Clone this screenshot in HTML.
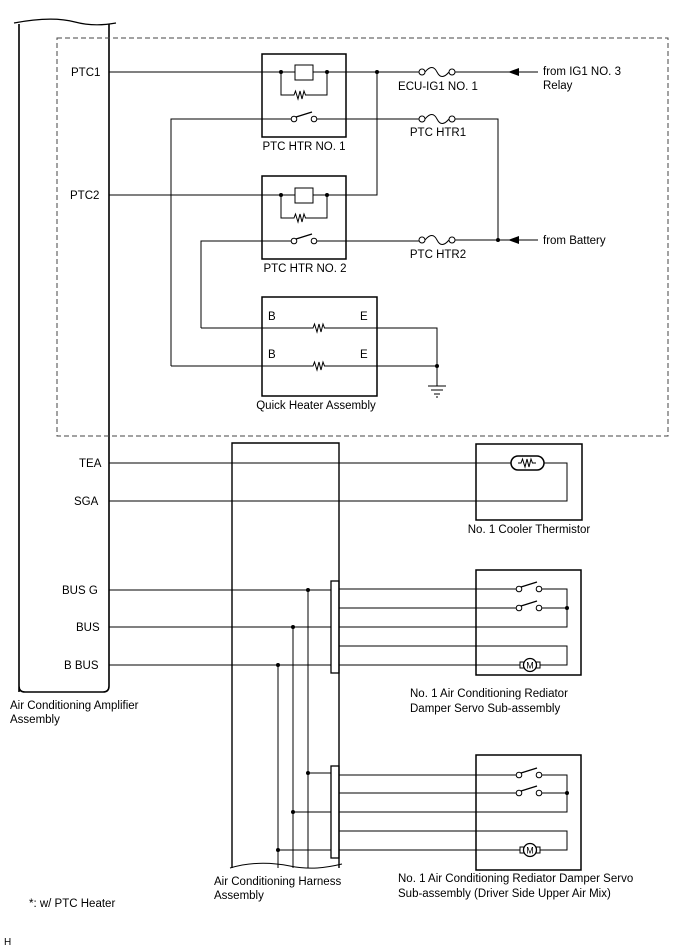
<!DOCTYPE html>
<html><head><meta charset="utf-8"><style>
html,body{margin:0;padding:0;background:#fff;}
svg{display:block;}
text{font-family:"Liberation Sans",Arial,sans-serif;font-size:11.5px;fill:#000;}
</style></head><body>
<svg width="688" height="949" viewBox="0 0 688 949" xmlns="http://www.w3.org/2000/svg">
<defs>
<g id="res"><path d="M-9,0 H-6 L-4.5,-4 L-2,4 L0,-4 L2,4 L4,-4 L5.5,0 H9" fill="none" stroke="#000" stroke-width="1"/></g>
<g id="fuse"><circle cx="-15" cy="0" r="3" fill="#fff" stroke="#000"/><circle cx="15" cy="0" r="3" fill="#fff" stroke="#000"/><path d="M-12,0 C-7,-6 -3,-6 0,0 C3,6 7,6 12,0" fill="none" stroke="#000"/></g>
<g id="sw"><circle cx="0" cy="0" r="2.8" fill="#fff" stroke="#000"/><circle cx="20" cy="0" r="2.8" fill="#fff" stroke="#000"/><line x1="2" y1="-2" x2="18" y2="-7" stroke="#000" stroke-width="1.3"/></g>
<g id="motor"><rect x="-10" y="-3" width="4" height="6" fill="#fff" stroke="#000"/><rect x="6" y="-3" width="4" height="6" fill="#fff" stroke="#000"/><circle cx="0" cy="0" r="6.5" fill="#fff" stroke="#000" stroke-width="1.3"/><text x="0" y="3.5" text-anchor="middle" style="font-size:9px">M</text></g>
</defs>
<g stroke="#000" fill="none" stroke-width="1">
<!-- amplifier -->
<path d="M19,692 V24 M109,24 V686 Q109,692 103,692 H25 Q19,692 19,686" stroke-width="1.6"/>
<path d="M14,23 C40,18 60,18 75,22 C90,26 105,25 116,23" stroke-width="1.2"/>
<!-- dashed -->
<rect x="57" y="38" width="611" height="398" stroke-dasharray="5,3" stroke="#444"/>
<!-- boxes -->
<rect x="262" y="54" width="84" height="83" stroke-width="1.5"/>
<rect x="262" y="176" width="84" height="83" stroke-width="1.5"/>
<rect x="262" y="297" width="115" height="99" stroke-width="1.5"/>
<!-- PTC1 -->
<path d="M109,72 H295 M313,72 H422 M452,72 H538"/>
<rect x="295" y="65" width="18" height="15"/>
<path d="M281,72 V95 H291 M309,95 H327 V72"/>
<path d="M377,72 V195 H327"/>
<path d="M327,195 V218 H309 M291,218 H281 V195"/>
<path d="M109,195 H295 M313,195 H327"/>
<rect x="295" y="188" width="18" height="15"/>
<!-- switch rows -->
<path d="M171,366 V119 H291 M317,119 H422 M452,119 H498 V240 M452,240 H538"/>
<path d="M201,328 V241 H291 M317,241 H422"/>
<!-- quick heater -->
<path d="M201,328 H310 M328,328 H437 V386 M171,366 H310 M328,366 H437"/>
<path d="M428,386 H446 M431,390 H443 M434,394 H440 M436,397 H438"/>
<!-- lower -->
<path d="M232,868 V443 H339 V868" stroke-width="1.4"/>
<path d="M230,868 C250,862 270,862 290,866 C310,870 325,868 342,864" stroke-width="1"/>
<rect x="476" y="444" width="106" height="76" stroke-width="1.5"/>
<path d="M109,463 H511 M544,463 H567 V501 H109"/>
<rect x="511" y="456" width="33" height="14" rx="7" stroke-width="1.5"/>
<!-- bus -->
<path d="M109,590 H331 M109,627 H331 M109,665 H331"/>
<path d="M308,590 V868 M293,627 V868 M278,665 V868"/>
<path d="M308,773 H331 M293,812 H331 M278,850 H331"/>
<rect x="331" y="581" width="8" height="92" stroke-width="1.3"/>
<rect x="331" y="766" width="8" height="92" stroke-width="1.3"/>
<rect x="476" y="570" width="105" height="105" stroke-width="1.5"/>
<rect x="476" y="755" width="105" height="115" stroke-width="1.5"/>
<path d="M339,589 H516 M542,589 H567 V627 H339 M339,608 H516 M542,608 H567 M339,646 H567 V665 H540 M520,665 H339"/>
<path d="M339,775 H516 M542,775 H567 V812 H339 M339,793 H516 M542,793 H567 M339,831 H567 V850 H540 M520,850 H339"/>
</g>
<use href="#res" x="300" y="95"/><use href="#res" x="300" y="218"/>
<use href="#res" x="319" y="328"/><use href="#res" x="319" y="366"/>
<use href="#res" x="527" y="463"/>
<use href="#fuse" x="437" y="72"/><use href="#fuse" x="437" y="119"/><use href="#fuse" x="437" y="240"/>
<use href="#sw" x="294" y="119"/><use href="#sw" x="294" y="241"/>
<use href="#sw" x="519" y="589"/><use href="#sw" x="519" y="608"/>
<use href="#sw" x="519" y="775"/><use href="#sw" x="519" y="793"/>
<use href="#motor" x="530" y="665"/><use href="#motor" x="530" y="850"/>
<g fill="#000">
<circle cx="281" cy="72" r="2"/><circle cx="327" cy="72" r="2"/><circle cx="377" cy="72" r="2"/>
<circle cx="281" cy="195" r="2"/><circle cx="327" cy="195" r="2"/><circle cx="498" cy="240" r="2"/>
<circle cx="437" cy="366" r="2"/>
<circle cx="308" cy="590" r="2"/><circle cx="293" cy="627" r="2"/><circle cx="278" cy="665" r="2"/>
<circle cx="308" cy="773" r="2"/><circle cx="293" cy="812" r="2"/><circle cx="278" cy="850" r="2"/>
<circle cx="567" cy="608" r="2"/><circle cx="567" cy="793" r="2"/>
<path d="M508,72 L519,68 V76 Z"/><path d="M508,240 L519,236 V244 Z"/>
</g>
<text x="71" y="76">PTC1</text>
<text x="70" y="199">PTC2</text>
<text x="304" y="150" text-anchor="middle">PTC HTR NO. 1</text>
<text x="305" y="272" text-anchor="middle">PTC HTR NO. 2</text>
<text x="316" y="409" text-anchor="middle">Quick Heater Assembly</text>
<text x="268" y="320">B</text><text x="268" y="358">B</text>
<text x="360" y="320">E</text><text x="360" y="358">E</text>
<text x="438" y="90" text-anchor="middle">ECU-IG1 NO. 1</text>
<text x="438" y="136" text-anchor="middle">PTC HTR1</text>
<text x="438" y="258" text-anchor="middle">PTC HTR2</text>
<text x="543" y="75">from IG1 NO. 3</text>
<text x="543" y="89">Relay</text>
<text x="543" y="244">from Battery</text>
<text x="79" y="467">TEA</text>
<text x="74" y="505">SGA</text>
<text x="62" y="594">BUS G</text>
<text x="76" y="631">BUS</text>
<text x="64" y="669">B BUS</text>
<text x="10" y="709">Air Conditioning Amplifier</text>
<text x="10" y="723">Assembly</text>
<text x="529" y="533" text-anchor="middle">No. 1 Cooler Thermistor</text>
<text x="410" y="697">No. 1 Air Conditioning Rediator</text>
<text x="410" y="712">Damper Servo Sub-assembly</text>
<text x="398" y="882">No. 1 Air Conditioning Rediator Damper Servo</text>
<text x="398" y="897">Sub-assembly (Driver Side Upper Air Mix)</text>
<text x="214" y="885">Air Conditioning Harness</text>
<text x="214" y="899">Assembly</text>
<text x="29" y="907">*: w/ PTC Heater</text>
<text x="4" y="945" style="font-size:10px">H</text>
</svg>
</body></html>
